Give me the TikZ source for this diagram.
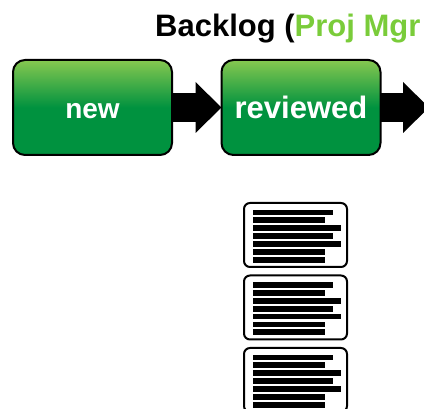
\documentclass[tikz,border=0pt]{standalone}
\usepackage{fontspec}
\setmainfont{Liberation Sans}
\usepackage{xcolor}
\usepackage{tikz}
\usetikzlibrary{arrows.meta}
\definecolor{boxtop}{RGB}{134,200,80}
\definecolor{boxbottom}{RGB}{0,146,63}
\definecolor{mgrgreen}{RGB}{122,204,58}
\tikzset{%
    state box/.style={
            rectangle,
            rounded corners=12pt,
            draw=black,
            line width=2pt,
            outer sep=0pt,
            top color=boxtop,
            bottom color=boxbottom,
            middle color=boxbottom,
            minimum width=159pt,
            minimum height=95pt,
            text=white,
            font=\bfseries,
            text height=22pt,
            text depth=0pt
        },
    flow arrow/.style={
            line width=29pt,
            -{Triangle[length=26pt,width=51pt,line width=0pt]}
        },
    card/.style={
            rectangle,
            rounded corners=6pt,
            draw=black,
            line width=2pt,
            outer sep=0pt,
            fill=white,
            minimum width=103pt,
            minimum height=64pt
        },
    card line/.style={
            line width=5.8pt
        },
}

\begin{document}
\begin{tikzpicture}[x=1pt, y=-1pt, >=stealth]

        \clip (0,0) rectangle (424,409);

        \node [anchor=base west, inner sep=0pt, font=\fontsize{31}{36}\bfseries\selectfont]
        (title) at (155,37) {Backlog (\textcolor{mgrgreen}{Proj Mgr}};

        \node [state box, font=\fontsize{28}{32}\bfseries\selectfont] (new) at (92.5,107.5) {new};
        \node [state box, font=\fontsize{31}{36}\bfseries\selectfont] (reviewed) at (301,107.5) {reviewed};
        \coordinate (exit) at (429,107.5);

        \draw [flow arrow] (new.east) -- (reviewed.west);
        \draw [flow arrow] (reviewed.east) -- (exit);

        \foreach \y [count=\c] in {235,307.5,380}
        \node [card] (card-\c) at (295.5,\y) {};

        \foreach \c in {1,2,3}
        \foreach \w [count=\k from 0] in {80,72,88,80,88,72,72}
        \draw [card line] ([xshift=9pt, yshift=-9.5pt-7.9pt*\k]card-\c.north west) -- ++(\w,0);

    \end{tikzpicture}
\end{document}
